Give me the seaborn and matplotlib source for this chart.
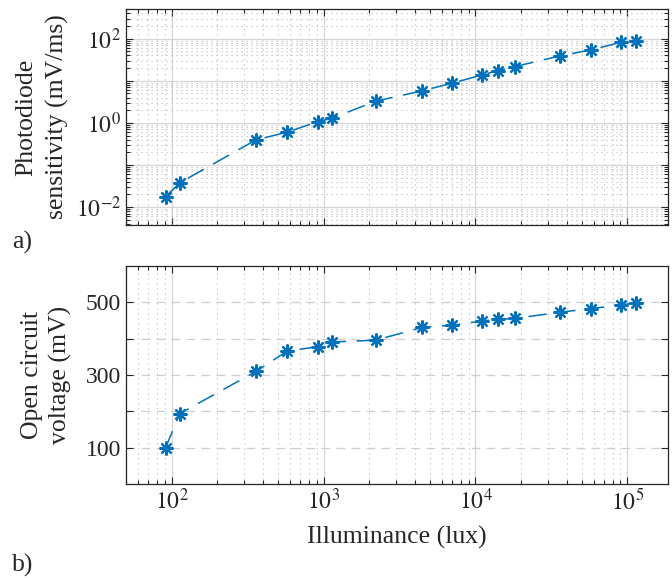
import numpy as np
import pandas as pd
import matplotlib
matplotlib.use("Agg")
import matplotlib.pyplot as plt
import matplotlib.ticker as mticker
import seaborn as sns

# illuminance (lux) of each measurement
illuminance = [91, 113, 359, 575, 912, 1140, 2200, 4440, 7000, 11100,
               14000, 18200, 36000, 57600, 91000, 114000]
# photodiode sensitivity (mV/ms)
sensitivity = [0.0178, 0.0377, 0.395, 0.60, 1.06, 1.29, 3.27, 5.74, 8.75, 13.8,
               17.4, 21.7, 38.9, 54.0, 82.2, 89.7]
# open circuit voltage (mV)
voc = [99, 194, 310, 366, 378, 391, 396, 431, 437, 449,
       453, 456, 473, 483, 493, 499]

df = pd.DataFrame({"lux": illuminance, "sens": sensitivity, "voc": voc})

sns.set_style("white")
plt.rcParams["font.family"] = ["Liberation Serif", "DejaVu Serif"]
plt.rcParams["mathtext.fontset"] = "stix"
plt.rcParams["font.size"] = 17

BLUE = "#0072BD"
ASTERISK = (8, 2, 0)
DASHES = (12, 7)

fig = plt.figure(figsize=(6.72, 5.78), dpi=100)
ax1 = fig.add_axes([0.1875, 0.6107, 0.8065, 0.3737])
ax2 = fig.add_axes([0.1875, 0.1626, 0.8065, 0.3770])


def style_x(ax):
    ax.set_xscale("log")
    ax.set_xlim(50, 1.85e5)
    ax.xaxis.set_major_locator(mticker.FixedLocator([1e2, 1e3, 1e4, 1e5]))
    ax.xaxis.set_minor_locator(mticker.LogLocator(base=10, subs=np.arange(2, 10), numticks=20))
    ax.xaxis.set_minor_formatter(mticker.NullFormatter())
    ax.grid(True, which="major", axis="x", color="#d6d6d6", lw=0.9, ls="-")
    ax.grid(True, which="minor", axis="x", color="#b8b8b8", lw=0.8, ls=(0, (1, 3.5)))
    ax.tick_params(which="both", direction="in", top=True, right=True,
                   bottom=True, left=True, labelsize=17, colors="#262626")
    ax.tick_params(which="major", length=5, width=0.8)
    ax.tick_params(which="minor", length=3, width=0.8)
    for s in ax.spines.values():
        s.set_color("#262626")
        s.set_linewidth(0.9)
    ax.set_axisbelow(True)


# ---- a) sensitivity ----
sns.lineplot(data=df, x="lux", y="sens", ax=ax1, color=BLUE, lw=1.1,
             marker=ASTERISK, markersize=10, markeredgewidth=1.6,
             markeredgecolor=BLUE, dashes=False)
ax1.lines[0].set_dashes(DASHES)
style_x(ax1)
ax1.set_yscale("log")
ax1.set_ylim(0.00375, 505)
ax1.yaxis.set_major_locator(mticker.FixedLocator([1e-2, 1e-1, 1e0, 1e1, 1e2]))
ax1.yaxis.set_major_formatter(mticker.FixedFormatter(
    [r"$10^{-2}$", "", r"$10^{0}$", "", r"$10^{2}$"]))
ax1.yaxis.set_minor_locator(mticker.LogLocator(base=10, subs=np.arange(2, 10), numticks=20))
ax1.yaxis.set_minor_formatter(mticker.NullFormatter())
ax1.grid(True, which="major", axis="y", color="#d6d6d6", lw=0.9, ls="-")
ax1.grid(True, which="minor", axis="y", color="#b8b8b8", lw=0.8, ls=(0, (1, 3.5)))
ax1.tick_params(axis="x", labelbottom=False)
ax1.set_xlabel("")
ax1.set_ylabel("Photodiode\nsensitivity (mV/ms)", fontsize=18.5, labelpad=5,
               linespacing=1.5)

# ---- b) open circuit voltage ----
sns.lineplot(data=df, x="lux", y="voc", ax=ax2, color=BLUE, lw=1.1,
             marker=ASTERISK, markersize=10, markeredgewidth=1.6,
             markeredgecolor=BLUE, dashes=False)
ax2.lines[0].set_dashes(DASHES)
style_x(ax2)
ax2.set_ylim(0, 600)
ax2.yaxis.set_major_locator(mticker.FixedLocator([100, 200, 300, 400, 500]))
ax2.yaxis.set_major_formatter(mticker.FixedFormatter(["100", "", "300", "", "500"]))
ax2.grid(True, which="major", axis="y", color="#cfcfcf", lw=0.9, ls=(0, (7, 5)))
ax2.xaxis.set_major_formatter(mticker.FixedFormatter(
    [r"$10^{2}$", r"$10^{3}$", r"$10^{4}$", r"$10^{5}$"]))
ax2.set_xlabel("Illuminance (lux)", fontsize=18.5, labelpad=8)
ax2.set_ylabel("Open circuit\nvoltage (mV)", fontsize=18.5, labelpad=10,
               linespacing=1.35)

fig.text(0.018, 0.581, "a)", fontsize=18.5, va="center", ha="left")
fig.text(0.018, 0.021, "b)", fontsize=18.5, va="center", ha="left")

fig.savefig("out.png", dpi=100)
